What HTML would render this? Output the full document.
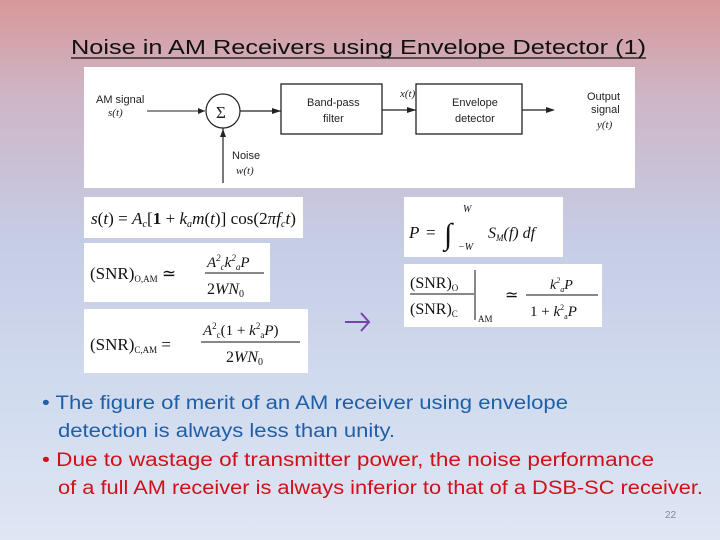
<!DOCTYPE html>
<html><head><meta charset="utf-8"><style>
html,body{margin:0;padding:0}
body{width:720px;height:540px;overflow:hidden;background:linear-gradient(#d8989a 0%,#cdb6c6 18%,#c6cde6 45%,#d2dcef 75%,#dfe6f4 100%)}
svg{display:block}
</style></head><body>
<svg width="720" height="540" xmlns="http://www.w3.org/2000/svg" font-family="Liberation Sans, sans-serif">
<text x="71" y="54" font-size="20" fill="#111" textLength="575" lengthAdjust="spacingAndGlyphs">Noise in AM Receivers using Envelope Detector (1)</text>
<line x1="71" y1="58" x2="646" y2="58" stroke="#111" stroke-width="1.3"/>
<!-- block diagram -->
<rect x="84" y="67" width="551" height="121" fill="#fff"/>
<g font-size="11" fill="#222">
<text x="96" y="103">AM signal</text><text x="108" y="116" font-style="italic" font-family="Liberation Serif">s(t)</text>
<line x1="147" y1="111" x2="205" y2="111" stroke="#222"/>
<polygon points="205,111 198,108 198,114" fill="#222"/>
<circle cx="223" cy="111" r="17" fill="none" stroke="#222" stroke-width="1.2"/>
<text x="216" y="118" font-size="17" font-family="Liberation Serif">Σ</text>
<line x1="223" y1="128" x2="223" y2="183" stroke="#222" stroke-width="1.2"/>
<polygon points="223,129 220,137 226,137" fill="#222"/>
<text x="232" y="159">Noise</text><text x="236" y="174" font-style="italic" font-family="Liberation Serif">w(t)</text>
<line x1="240" y1="111" x2="281" y2="111" stroke="#222" stroke-width="1.3"/>
<polygon points="281,111 272,108 272,114" fill="#222"/>
<rect x="281" y="84" width="101" height="50" fill="none" stroke="#222" stroke-width="1.3"/>
<text x="307" y="106">Band-pass</text><text x="323" y="122">filter</text>
<line x1="382" y1="110" x2="416" y2="110" stroke="#222" stroke-width="1.3"/>
<polygon points="416,110 407,107 407,113" fill="#222"/>
<text x="400" y="97" font-style="italic" font-family="Liberation Serif">x(t)</text>
<rect x="416" y="84" width="106" height="50" fill="none" stroke="#222" stroke-width="1.3"/>
<text x="452" y="106">Envelope</text><text x="455" y="122">detector</text>
<line x1="522" y1="110" x2="553" y2="110" stroke="#222" stroke-width="1.3"/>
<polygon points="555,110 546,107 546,113" fill="#222"/>
<text x="587" y="100">Output</text><text x="591" y="113">signal</text><text x="597" y="128" font-style="italic" font-family="Liberation Serif">y(t)</text>
</g>
<!-- formula boxes -->
<g font-family="Liberation Serif, serif" fill="#111">
<rect x="84" y="197" width="219" height="41" fill="#fff"/>
<text x="91" y="224" font-size="17" textLength="205" lengthAdjust="spacingAndGlyphs"><tspan font-style="italic">s</tspan>(<tspan font-style="italic">t</tspan>) = <tspan font-style="italic">A<tspan font-size="10" dy="3">c</tspan></tspan><tspan dy="-3">[</tspan><tspan font-weight="bold">1</tspan> + <tspan font-style="italic">k<tspan font-size="10" dy="3">a</tspan><tspan dy="-3">m</tspan></tspan>(<tspan font-style="italic">t</tspan>)] cos(2<tspan font-style="italic">πf<tspan font-size="10" dy="3">c</tspan><tspan dy="-3">t</tspan></tspan>)</text>

<rect x="84" y="243" width="186" height="59" fill="#fff"/>
<text x="90" y="279" font-size="17">(SNR)<tspan font-size="9" dy="3">O,AM</tspan><tspan dy="-3"> ≃</tspan></text>
<text x="207" y="267" font-size="15" font-style="italic">A<tspan font-size="9" dy="-6">2</tspan><tspan font-size="9" dy="9">c</tspan><tspan dy="-3">k</tspan><tspan font-size="9" dy="-6">2</tspan><tspan font-size="9" dy="9">a</tspan><tspan dy="-3">P</tspan></text>
<line x1="205" y1="273" x2="264" y2="273" stroke="#111"/>
<text x="207" y="294" font-size="16">2<tspan font-style="italic">WN</tspan><tspan font-size="10" dy="3">0</tspan></text>

<rect x="84" y="309" width="224" height="64" fill="#fff"/>
<text x="90" y="350" font-size="17">(SNR)<tspan font-size="9" dy="3">C,AM</tspan><tspan dy="-3"> =</tspan></text>
<text x="203" y="335" font-size="15"><tspan font-style="italic">A</tspan><tspan font-size="9" dy="-6">2</tspan><tspan font-size="9" dy="9">c</tspan><tspan dy="-3">(1 + </tspan><tspan font-style="italic">k</tspan><tspan font-size="9" dy="-6">2</tspan><tspan font-size="9" dy="9">a</tspan><tspan dy="-3" font-style="italic">P</tspan>)</text>
<line x1="201" y1="342" x2="300" y2="342" stroke="#111"/>
<text x="226" y="362" font-size="16">2<tspan font-style="italic">WN</tspan><tspan font-size="10" dy="3">0</tspan></text>

<rect x="404" y="197" width="159" height="60" fill="#fff"/>
<text x="409" y="238" font-size="17" font-style="italic">P</text><text x="426" y="238" font-size="17">=</text>
<text x="444" y="244" font-size="30">∫</text>
<text x="463" y="212" font-size="10" font-style="italic">W</text>
<text x="458" y="250" font-size="10" font-style="italic">−W</text>
<text x="488" y="238" font-size="16" font-style="italic">S<tspan font-size="9" dy="3">M</tspan><tspan dy="-3">(f) df</tspan></text>

<rect x="404" y="264" width="198" height="63" fill="#fff"/>
<text x="410" y="288" font-size="16">(SNR)<tspan font-size="9" dy="3">O</tspan></text>
<line x1="410" y1="294" x2="474" y2="294" stroke="#111"/>
<text x="410" y="314" font-size="16">(SNR)<tspan font-size="9" dy="3">C</tspan></text>
<line x1="475" y1="270" x2="475" y2="320" stroke="#111"/>
<text x="478" y="322" font-size="9">AM</text>
<text x="505" y="300" font-size="16">≃</text>
<text x="550" y="289" font-size="14" font-style="italic">k<tspan font-size="8" dy="-6">2</tspan><tspan font-size="8" dy="9">a</tspan><tspan dy="-3">P</tspan></text>
<line x1="526" y1="295" x2="598" y2="295" stroke="#111"/>
<text x="530" y="316" font-size="15">1 + <tspan font-style="italic">k</tspan><tspan font-size="8" dy="-6">2</tspan><tspan font-size="8" dy="9">a</tspan><tspan dy="-3" font-style="italic">P</tspan></text>
</g>
<!-- arrow -->
<g stroke="#7a3fb0" stroke-width="2" fill="none">
<line x1="345" y1="322" x2="369" y2="322"/>
<polyline points="361,313 369,322 361,331"/>
</g>
<!-- bullets -->
<g font-size="19">
<text x="42" y="409" fill="#1f5fa8" textLength="526" lengthAdjust="spacingAndGlyphs">• The figure of merit of an AM receiver using envelope</text>
<text x="58" y="437" fill="#1f5fa8" textLength="337" lengthAdjust="spacingAndGlyphs">detection is always less than unity.</text>
<text x="42" y="466" fill="#d0101a" textLength="612" lengthAdjust="spacingAndGlyphs">• Due to wastage  of transmitter power, the noise performance</text>
<text x="58" y="494" fill="#d0101a" textLength="645" lengthAdjust="spacingAndGlyphs">of a full AM receiver is always inferior to that of a DSB-SC receiver.</text>
</g>
<text x="665" y="518" font-size="10" fill="#888">22</text>
</svg>
</body></html>
